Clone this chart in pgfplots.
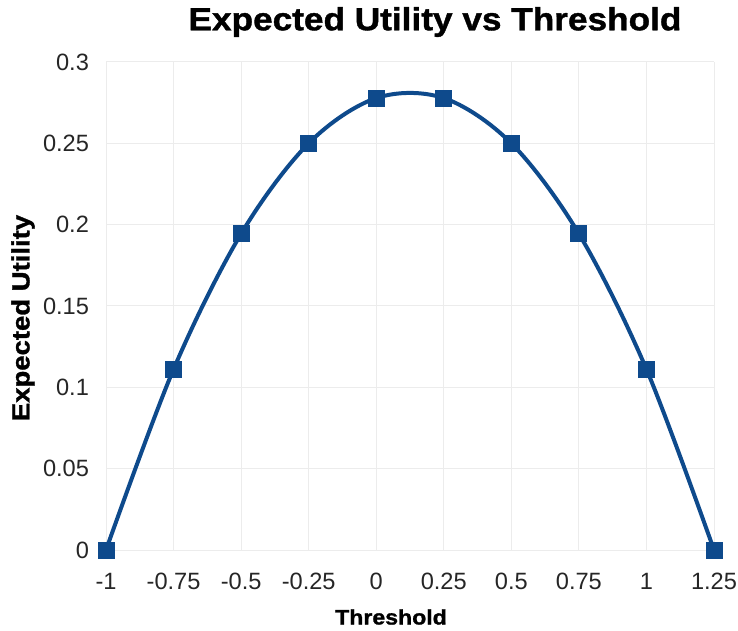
\documentclass[border=0pt]{standalone}
\usepackage{pgfplots}
\pgfplotsset{compat=1.18}
\usepackage{fontspec}
\setmainfont{Liberation Sans}
\newfontfamily\heavy{Liberation Sans}[BoldFeatures={FakeBold=1.2,FakeStretch=1.1}]
\definecolor{curveblue}{RGB}{14,74,140}
\definecolor{gridgray}{RGB}{236,236,236}
\begin{document}
\begin{tikzpicture}
\useasboundingbox (-53pt,-40.5pt) rectangle (316pt,275pt);
\begin{axis}[
  at={(0,0)}, anchor=south west,
  scale only axis,
  width=304pt, height=244pt,
  xmin=-1, xmax=1.25, ymin=0, ymax=0.3,
  xtick={-1,-0.75,-0.5,-0.25,0,0.25,0.5,0.75,1,1.25},
  ytick={0,0.05,0.1,0.15,0.2,0.25,0.3},
  xticklabels={-1,-0.75,-0.5,-0.25,0,0.25,0.5,0.75,1,1.25},
  yticklabels={0,0.05,0.1,0.15,0.2,0.25,0.3},
  axis line style={draw=none},
  major tick length=0pt,
  grid=major,
  grid style={gridgray, line width=0.5pt},
  tick label style={font=\fontsize{11.8}{13}\selectfont, text=black!85},
  xticklabel style={yshift=-8pt},
  yticklabel style={xshift=-5pt},
  clip=false,
]
\addplot[curveblue, line width=2pt, smooth, tension=0.55,
  mark=square*, mark size=4pt, mark options={fill=curveblue, draw=curveblue, line width=0pt}]
  coordinates {
  (-1,0) (-0.75,0.1111) (-0.5,0.1944) (-0.25,0.25) (0,0.2778)
  (0.25,0.2778) (0.5,0.25) (0.75,0.1944) (1,0.1111) (1.25,0)
  };
\end{axis}
\node[font=\heavy\fontsize{16}{19}\selectfont\bfseries] at (164.5pt,264pt) {Expected Utility vs Threshold};
\node[font=\heavy\fontsize{12.5}{14}\selectfont\bfseries, rotate=90] at (-41.5pt,116pt) {Expected Utility};
\node[font=\heavy\fontsize{10.5}{12}\selectfont\bfseries] at (142.5pt,-33.5pt) {Threshold};
\end{tikzpicture}
\end{document}
